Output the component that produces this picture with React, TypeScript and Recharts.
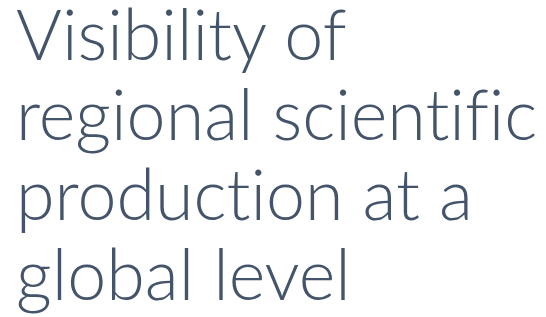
import { Surface, Layer, Text } from "recharts"

const titleLines = ["Visibility of", "regional scientific", "production at a", "global level"]
const lineBaselines = [60, 140, 220, 300]

export default function App() {
  return (
    <div style={{ position: "absolute", left: 0, top: 0, width: 546, height: 317, background: "#ffffff" }}>
      <Surface width={546} height={317}>
        <Layer>
          {titleLines.map((line, i) => (
            <Text
              key={line}
              x={16}
              y={lineBaselines[i]}
              textAnchor="start"
              verticalAnchor="end"
              fill="#44546A"
              style={{ fontFamily: "Lato", fontWeight: 300, fontSize: 70, fontVariantLigatures: "none" }}
            >
              {line}
            </Text>
          ))}
        </Layer>
      </Surface>
    </div>
  )
}
